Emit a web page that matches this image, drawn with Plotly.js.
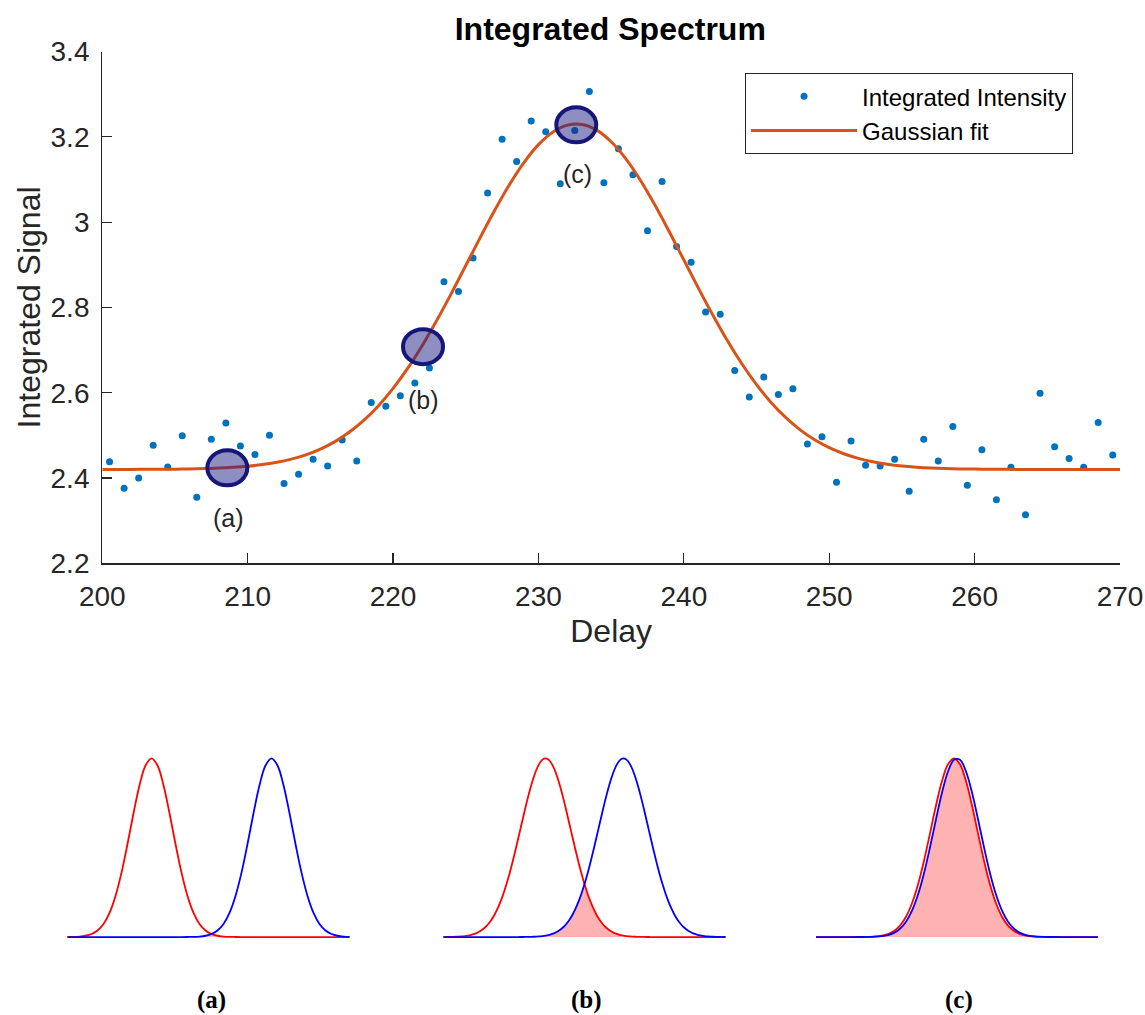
<!DOCTYPE html>
<html>
<head>
<meta charset="utf-8">
<script src="https://cdn.plot.ly/plotly-3.0.1.min.js"></script>
<style>html,body{margin:0;padding:0;background:#fff;}#chart{width:1145px;height:1015px;}</style>
</head>
<body>
<div id="chart"></div>
<script>
// ---------- main chart data ----------
const delay = [200.5,201.5,202.5,203.5,204.5,205.5,206.5,207.5,208.5,209.5,
  210.5,211.5,212.5,213.5,214.5,215.5,216.5,217.5,218.5,219.5,
  220.5,221.5,222.5,223.5,224.5,225.5,226.5,227.5,228.5,229.5,
  230.5,231.5,232.5,233.5,234.5,235.5,236.5,237.5,238.5,239.5,
  240.5,241.5,242.5,243.5,244.5,245.5,246.5,247.5,248.5,249.5,
  250.5,251.5,252.5,253.5,254.5,255.5,256.5,257.5,258.5,259.5,
  260.5,261.5,262.5,263.5,264.5,265.5,266.5,267.5,268.5,269.5];
const intensity = [2.438,2.376,2.400,2.477,2.426,2.499,2.355,2.491,2.529,2.475,
  2.455,2.500,2.387,2.409,2.444,2.428,2.489,2.440,2.577,2.568,
  2.593,2.623,2.658,2.860,2.837,2.916,3.068,3.194,3.142,3.237,
  3.212,3.090,3.215,3.306,3.092,3.172,3.111,2.980,3.095,2.943,
  2.906,2.789,2.784,2.652,2.590,2.637,2.596,2.609,2.480,2.497,
  2.390,2.487,2.430,2.428,2.444,2.369,2.491,2.440,2.521,2.383,
  2.466,2.349,2.425,2.314,2.599,2.473,2.446,2.425,2.530,2.454];
const fitDelay = [200,201,202,203,204,205,206,207,208,209,
  210,211,212,213,214,215,216,217,218,219,
  220,221,222,223,224,225,226,227,228,229,
  230,231,232,233,234,235,236,237,238,239,
  240,241,242,243,244,245,246,247,248,249,
  250,251,252,253,254,255,256,257,258,259,
  260,261,262,263,264,265,266,267,268,269,270];
const fitSignal = [2.4200,2.4201,2.4202,2.4203,2.4205,2.4208,2.4213,2.4220,2.4232,2.4250,
  2.4276,2.4314,2.4368,2.4443,2.4544,2.4679,2.4854,2.5078,2.5357,2.5696,
  2.6100,2.6570,2.7103,2.7692,2.8323,2.8981,2.9642,3.0283,3.0877,3.1396,
  3.1816,3.2113,3.2273,3.2288,3.2157,3.1885,3.1489,3.0988,3.0406,2.9773,
  2.9113,2.8453,2.7815,2.7217,2.6673,2.6190,2.5772,2.5420,2.5129,2.4895,
  2.4710,2.4568,2.4461,2.4381,2.4324,2.4283,2.4255,2.4235,2.4222,2.4214,
  2.4209,2.4205,2.4203,2.4202,2.4201,2.4200,2.4200,2.4200,2.4200,2.4200,2.4200];
const markDelay = [208.6, 222.06, 232.6];
const markSignal = [2.424, 2.708, 3.228];
const markLabel = ['(a)', '(b)', '(c)'];
const labelDelay = [208.7, 222.1, 232.7];
const labelSignal = [2.306, 2.582, 3.112];
const xTickVals = [200,210,220,230,240,250,260,270];
const xTickText = ['200','210','220','230','240','250','260','270'];
const yTickVals = [2.2,2.4,2.6,2.8,3.0,3.2,3.4];
const yTickText = ['2.2','2.4','2.6','2.8','3','3.2','3.4'];

// ---------- bottom panels data (normalised pulse profiles) ----------
const gridA = [0,6,12,18,24,30,36,42,48,54,60,66,72,78,84,90,96,102,108,114,120,126,132,138,144,150,156,162,168,174,180,186,192,198,204,210,216,222,228,234,240,246,252,258,264,270,276,282];
const redA = [0.0003,0.001,0.0028,0.0072,0.0169,0.0367,0.0734,0.1353,0.2301,0.3604,0.5205,0.6926,0.8494,0.96,1,0.96,0.8494,0.6926,0.5205,0.3604,0.2301,0.1353,0.0734,0.0367,0.0169,0.0072,0.0028,0.001,0.0003,
  0,0,0,0,0,0,0,0,0,0,0,0,0,0,0,0,0,0,0];
const blueA = [0,0,0,0,0,0,0,0,0,0,0,0,0,0,0,0,0,0,0,0,
  0.0003,0.001,0.0028,0.0072,0.0169,0.0367,0.0734,0.1353,0.2301,0.3604,0.5205,0.6926,0.8494,0.96,1,0.96,0.8494,0.6926,0.5205,0.3604,0.2301,0.1353,0.0734,0.0367,0.0169,0.0072,0.0028,0.001];
const gridB = [0,3,6,9,12,15,18,21,24,27,30,33,36,39,42,45,48,51,54,57,
  60,63,66,69,72,75,78,81,84,87,90,93,96,99,102,105,108,111,114,117,
  120,123,126,129,132,135,138,141,144,147,150,153,156,159,162,165,168,171,174,177,
  180,183,186,189,192,195,198,201,204,207,210,213,216,219,222,225,228,231,234,237,
  240,243,246,249,252,255,258,261,264,267,270,273,276,279,282];
const redB = [0.0002,0.0004,0.0006,0.001,0.0015,0.0023,0.0035,0.0053,0.0077,0.0111,0.0158,0.0222,0.0307,0.0418,0.0561,0.0743,0.097,0.1248,0.1583,0.1979,0.2438,0.2962,0.3546,0.4185,0.4868,0.5581,0.6308,0.7027,0.7717,0.8353,0.8912,0.9373,0.9716,0.9928,
  1,
  0.9928,0.9716,0.9373,0.8912,0.8353,0.7717,0.7027,0.6308,0.5581,0.4868,0.4185,0.3546,0.2962,0.2438,0.1979,0.1583,0.1248,0.097,0.0743,0.0561,0.0418,0.0307,0.0222,0.0158,0.0111,0.0077,0.0053,0.0035,0.0023,0.0015,0.001,0.0006,0.0004,0.0002,
  0,0,0,0,0,0,0,0,0,0,0,0,0,0,0,0,0,0,0,0,0,0,0,0,0,0];
const blueB = [0,0,0,0,0,0,0,0,0,0,0,0,0,0,0,0,0,0,0,0,0,0,0,0,0,0,
  0.0002,0.0004,0.0006,0.001,0.0015,0.0023,0.0035,0.0053,0.0077,0.0111,0.0158,0.0222,0.0307,0.0418,0.0561,0.0743,0.097,0.1248,0.1583,0.1979,0.2438,0.2962,0.3546,0.4185,0.4868,0.5581,0.6308,0.7027,0.7717,0.8353,0.8912,0.9373,0.9716,0.9928,
  1,
  0.9928,0.9716,0.9373,0.8912,0.8353,0.7717,0.7027,0.6308,0.5581,0.4868,0.4185,0.3546,0.2962,0.2438,0.1979,0.1583,0.1248,0.097,0.0743,0.0561,0.0418,0.0307,0.0222,0.0158,0.0111,0.0077,0.0053,0.0035,0.0023,0.0015,0.001,0.0006,0.0004,0.0002];
const gridC = gridA;
const redC = [0,0,0,0,0,0,0,
  0.0002,0.0005,0.0013,0.0032,0.0074,0.0163,0.0333,0.0635,0.1133,0.1888,0.2938,0.4271,0.5802,0.7362,0.8728,0.9665,
  1,
  0.9665,0.8728,0.7362,0.5802,0.4271,0.2938,0.1888,0.1133,0.0635,0.0333,0.0163,0.0074,0.0032,0.0013,0.0005,0.0002,
  0,0,0,0,0,0,0,0];
const blueC = [0,0,0,0,0,0,0,
  0.0001,0.0003,0.0008,0.002,0.0049,0.0111,0.0235,0.0464,0.0856,0.1475,0.2375,0.3573,0.5021,0.6591,0.8084,0.9263,
  0.9915,0.9915,
  0.9263,0.8084,0.6591,0.5021,0.3573,0.2375,0.1475,0.0856,0.0464,0.0235,0.0111,0.0049,0.002,0.0008,0.0003,0.0001,
  0,0,0,0,0,0,0];
const panelLabels = ['(a)', '(b)', '(c)'];

// ---------- build ----------
const FONT = 'Liberation Sans, Arial, Helvetica, sans-serif';
const TXT = '#262626';
const traces = [];

traces.push({
  x: delay, y: intensity, type: 'scatter', mode: 'markers', name: 'Integrated Intensity',
  marker: {color: '#0072BD', size: 7}, xaxis: 'x', yaxis: 'y'
});
traces.push({
  x: fitDelay, y: fitSignal, type: 'scatter', mode: 'lines', name: 'Gaussian fit',
  line: {color: '#D95319', width: 3, shape: 'spline'}, xaxis: 'x', yaxis: 'y'
});

const panels = [
  {x: gridA, r: redA, b: blueA, xa: 'x2', ya: 'y2'},
  {x: gridB, r: redB, b: blueB, xa: 'x3', ya: 'y3'},
  {x: gridC, r: redC, b: blueC, xa: 'x4', ya: 'y4'}
];
panels.forEach(p => {
  const overlap = p.r.map((v, i) => Math.min(v, p.b[i]));
  traces.push({x: p.x, y: overlap, type: 'scatter', mode: 'lines', fill: 'tozeroy',
    fillcolor: 'rgba(255,0,0,0.3)', line: {width: 0, shape: 'spline'}, showlegend: false,
    hoverinfo: 'skip', xaxis: p.xa, yaxis: p.ya});
  traces.push({x: p.x, y: p.r, type: 'scatter', mode: 'lines', line: {color: '#ff0000', width: 1.8, shape: 'spline'},
    showlegend: false, xaxis: p.xa, yaxis: p.ya});
  traces.push({x: p.x, y: p.b, type: 'scatter', mode: 'lines', line: {color: '#0000ff', width: 1.8, shape: 'spline'},
    showlegend: false, xaxis: p.xa, yaxis: p.ya});
});

const shapes = markDelay.map((d, i) => ({
  type: 'circle', xref: 'x', yref: 'y', xsizemode: 'pixel', ysizemode: 'pixel',
  xanchor: d, yanchor: markSignal[i], x0: -20, x1: 20, y0: -17.5, y1: 17.5,
  fillcolor: 'rgba(30,30,130,0.5)', line: {color: '#16167a', width: 4}, layer: 'above'
}));

const annotations = markLabel.map((t, i) => ({
  text: t, x: labelDelay[i], y: labelSignal[i], xref: 'x', yref: 'y', showarrow: false,
  font: {family: FONT, size: 25, color: TXT}, xanchor: 'center', yanchor: 'middle'
}));
const panelLabelX = [0.1843, 0.5118, 0.8376];
panelLabels.forEach((t, i) => annotations.push({
  text: '<b>' + t + '</b>', x: panelLabelX[i], y: 0.0148, xref: 'paper', yref: 'paper', showarrow: false,
  font: {family: 'Liberation Serif, Times New Roman, serif', size: 25, color: '#000'},
  xanchor: 'center', yanchor: 'middle'
}));

const hidden = (dom) => ({domain: dom, range: [-8, 290], visible: false, fixedrange: true});
const hiddenY = {domain: [0.0592, 0.2705], range: [-0.1, 1.1], visible: false, fixedrange: true};

const layout = {
  width: 1145, height: 1015,
  margin: {l: 0, r: 0, t: 0, b: 0},
  paper_bgcolor: '#fff', plot_bgcolor: 'rgba(0,0,0,0)',
  font: {family: FONT, color: TXT},
  title: {text: 'Integrated Spectrum', x: 0.533, xanchor: 'center', y: 0.972, yanchor: 'middle',
    font: {family: FONT, size: 32, weight: 'bold', color: '#000'}},
  xaxis: {domain: [0.08934, 0.97817], range: [200, 270], tickvals: xTickVals, ticktext: xTickText,
    ticks: 'inside', ticklen: 10, tickwidth: 1.2, tickcolor: TXT, showline: true, linecolor: TXT, linewidth: 1.2,
    showgrid: false, zeroline: false, tickfont: {family: FONT, size: 28, color: TXT}, ticklabelstandoff: 8,
    title: {text: 'Delay', font: {family: FONT, size: 32, color: TXT}, standoff: 8}, anchor: 'y'},
  yaxis: {domain: [0.44502, 0.94926], range: [2.2, 3.4], tickvals: yTickVals, ticktext: yTickText,
    ticks: 'inside', ticklen: 10, tickwidth: 1.2, tickcolor: TXT, showline: true, linecolor: TXT, linewidth: 1.2,
    showgrid: false, zeroline: false, tickfont: {family: FONT, size: 28, color: TXT}, ticklabelstandoff: 6,
    title: {text: 'Integrated Signal', font: {family: FONT, size: 32, color: TXT}, standoff: 0}, anchor: 'x'},
  xaxis2: Object.assign(hidden([0.05197, 0.31223]), {anchor: 'y2'}),
  yaxis2: Object.assign({}, hiddenY, {anchor: 'x2'}),
  xaxis3: Object.assign(hidden([0.38035, 0.64061]), {anchor: 'y3'}),
  yaxis3: Object.assign({}, hiddenY, {anchor: 'x3'}),
  xaxis4: Object.assign(hidden([0.70568, 0.96594]), {anchor: 'y4'}),
  yaxis4: Object.assign({}, hiddenY, {anchor: 'x4'}),
  showlegend: true,
  legend: {x: 0.6507, y: 0.928, xanchor: 'left', yanchor: 'top', bgcolor: '#fff',
    bordercolor: TXT, borderwidth: 1, itemwidth: 106, font: {family: FONT, size: 24, color: '#000'}},
  shapes: shapes,
  annotations: annotations
};

Plotly.newPlot('chart', traces, layout, {displayModeBar: false, staticPlot: true});
</script>
</body>
</html>
